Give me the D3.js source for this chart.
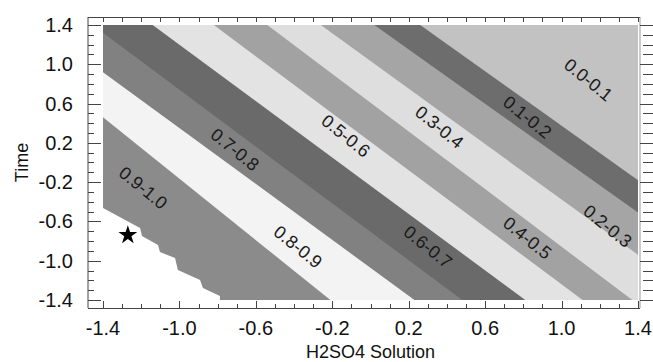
<!DOCTYPE html>
<html>
<head>
<meta charset="utf-8">
<script src="https://cdn.jsdelivr.net/npm/d3@7"></script>
<style>
  html, body { margin: 0; padding: 0; background: #fff; }
  svg { display: block; font-family: "Liberation Sans", Arial, sans-serif; }
</style>
</head>
<body>
<svg id="chart" width="653" height="362"></svg>
<script>
// ---- data ----
const xTicks = [-1.4, -1.0, -0.6, -0.2, 0.2, 0.6, 1.0, 1.4];
const yTicks = [-1.4, -1.0, -0.6, -0.2, 0.2, 0.6, 1.0, 1.4];
const xTitle = "H2SO4 Solution";
const yTitle = "Time";

const bandNames  = ["0.0-0.1","0.1-0.2","0.2-0.3","0.3-0.4","0.4-0.5","0.5-0.6","0.6-0.7","0.7-0.8","0.8-0.9","0.9-1.0"];
const bandColors = ["#c2c2c2","#6d6d6d","#a5a5a5","#dedede","#a2a2a2","#e3e3e3","#6a6a6a","#818181","#f3f3f3","#8b8b8b"];

// contour boundaries between successive bands (H2SO4, Time)
const b01 = [[0.26, 1.4], [1.4, -0.18]];
const b02 = [[0.02, 1.4], [1.4, -0.51]];
const b03 = [[-0.26, 1.4], [1.4, -0.94]];
const b04 = [[-0.54, 1.4], [1.37, -1.4]];
const b05 = [[-0.82, 1.4], [1.11, -1.4]];
const b06 = [[-1.14, 1.4], [0.81, -1.4]];
const b07 = [[-1.4, 1.32], [0.48, -1.4]];
const b08 = [[-1.4, 0.92], [0.23, -1.4]];
const b09 = [[-1.4, 0.46], [-0.21, -1.4]];
const boundaries = [b01, b02, b03, b04, b05, b06, b07, b08, b09];

// jagged edge of the plotted region (lower-left blank area)
const edgeX = [-1.400, -1.206, -1.196, -1.112, -1.102, -1.023, -1.008, -0.892, -0.877, -0.788, -0.788];
const edgeY = [-0.464, -0.667, -0.749, -0.840, -0.912, -0.973, -1.095, -1.197, -1.278, -1.360, -1.400];

// optimum marker
const starX = [-1.27];
const starY = [-0.74];

// contour labels (centre, in data units)
const labelText = ["0.0-0.1","0.1-0.2","0.2-0.3","0.3-0.4","0.4-0.5","0.5-0.6","0.6-0.7","0.7-0.8","0.8-0.9","0.9-1.0"];
const labelX    = [1.14, 0.82, 1.24, 0.36, 0.82, -0.13, 0.30, -0.71, -0.38, -1.19];
const labelY    = [0.84, 0.46, -0.65, 0.36, -0.77, 0.27, -0.86, 0.13, -0.86, -0.26];

// ---- layout ----
const svg = d3.select("#chart");
const x = d3.scaleLinear().domain([-1.4, 1.4]).range([103, 638]);
const y = d3.scaleLinear().domain([-1.4, 1.4]).range([300, 25]);
const frame = { left: 88, top: 17, right: 640, bottom: 308, outerRight: 653 };

svg.append("defs").append("clipPath").attr("id", "plotClip")
  .append("rect")
  .attr("x", x(-1.4)).attr("y", y(1.4))
  .attr("width", x(1.4) - x(-1.4)).attr("height", y(-1.4) - y(1.4));

const plot = svg.append("g").attr("clip-path", "url(#plotClip)");

// background = lowest band
plot.append("rect")
  .attr("x", x(-1.4)).attr("y", y(1.4))
  .attr("width", x(1.4) - x(-1.4)).attr("height", y(-1.4) - y(1.4))
  .attr("fill", bandColors[0]);

function lowerLeftPolygon(pts) {
  const p = pts.map(d => [x(d[0]), y(d[1])]);
  const ext = 1500;
  const a = p[0], b = p[1];
  const la = Math.hypot(b[0] - a[0], b[1] - a[1]);
  const first = [a[0] - (b[0] - a[0]) / la * ext, a[1] - (b[1] - a[1]) / la * ext];
  const c = p[p.length - 2], d = p[p.length - 1];
  const lc = Math.hypot(d[0] - c[0], d[1] - c[1]);
  const last = [d[0] + (d[0] - c[0]) / lc * ext, d[1] + (d[1] - c[1]) / lc * ext];
  const poly = [first, ...p, last, [-3000, last[1]], [-3000, first[1]]];
  return "M" + poly.map(q => q.join(",")).join("L") + "Z";
}

boundaries.forEach((bd, i) => {
  plot.append("path")
    .attr("d", lowerLeftPolygon(bd))
    .attr("fill", bandColors[i + 1]);
});

// blank area
const edgePts = edgeX.map((v, i) => [v, edgeY[i]]);
plot.append("path").attr("d", lowerLeftPolygon(edgePts)).attr("fill", "#ffffff");

// labels
const lg = svg.append("g");
labelText.forEach((t, i) => {
  lg.append("text")
    .attr("transform", `translate(${x(labelX[i])},${y(labelY[i])}) rotate(39)`)
    .attr("text-anchor", "middle")
    .attr("dominant-baseline", "central")
    .attr("font-size", 18)
    .attr("fill", "#1a1a1a")
    .text(t);
});

// star marker
svg.append("g").selectAll("path.star").data(starX.map((v, i) => [v, starY[i]]))
  .enter().append("path")
  .attr("d", d3.symbol().type(d3.symbolStar).size(110))
  .attr("transform", d => `translate(${x(d[0])},${y(d[1])})`)
  .attr("fill", "#000");

// ---- axes / frame ----
const ax = svg.append("g").attr("stroke", "#444").attr("stroke-width", 1).attr("fill", "none");
ax.append("line").attr("x1", frame.left).attr("x2", frame.left).attr("y1", frame.top).attr("y2", frame.bottom);
ax.append("line").attr("x1", frame.left).attr("x2", frame.right).attr("y1", frame.top + 0.5).attr("y2", frame.top + 0.5);
ax.append("line").attr("x1", frame.left).attr("x2", frame.right).attr("y1", frame.bottom + 0.5).attr("y2", frame.bottom + 0.5);
ax.append("line").attr("x1", frame.right).attr("x2", frame.right).attr("y1", frame.top).attr("y2", frame.bottom).attr("stroke", "#999");

const minor = d3.range(0, 29).map(i => -1.4 + i * 0.1);
minor.forEach((v, i) => {
  const major = i % 4 === 0;
  const px = Math.round(x(v)) + 0.5, py = Math.round(y(v)) + 0.5;
  ax.append("line").attr("x1", px).attr("x2", px).attr("y1", frame.top).attr("y2", frame.top + 5);
  ax.append("line").attr("x1", px).attr("x2", px).attr("y1", frame.bottom).attr("y2", frame.bottom - (major ? 7 : 4));
  ax.append("line").attr("x1", frame.left).attr("x2", frame.left + (major ? 13 : 6)).attr("y1", py).attr("y2", py);
  ax.append("line").attr("x1", frame.outerRight).attr("x2", frame.outerRight - (major ? 13 : 10)).attr("y1", py).attr("y2", py);
});

const fmt = d3.format(".1f");
svg.append("g").selectAll("text").data(xTicks).enter().append("text")
  .attr("x", d => x(d)).attr("y", 335)
  .attr("text-anchor", "middle").attr("font-size", 20).attr("fill", "#111")
  .text(d => fmt(d).replace("−", "-"));
svg.append("g").selectAll("text").data(yTicks).enter().append("text")
  .attr("x", 73).attr("y", d => y(d) + 7)
  .attr("text-anchor", "end").attr("font-size", 20).attr("fill", "#111")
  .text(d => fmt(d).replace("−", "-"));

svg.append("text").attr("x", (frame.left + frame.outerRight) / 2).attr("y", 358)
  .attr("text-anchor", "middle").attr("font-size", 18).attr("fill", "#111").text(xTitle);
svg.append("text").attr("transform", `translate(28,${(frame.top + frame.bottom) / 2}) rotate(-90)`)
  .attr("text-anchor", "middle").attr("font-size", 18).attr("fill", "#111").text(yTitle);
</script>
</body>
</html>
